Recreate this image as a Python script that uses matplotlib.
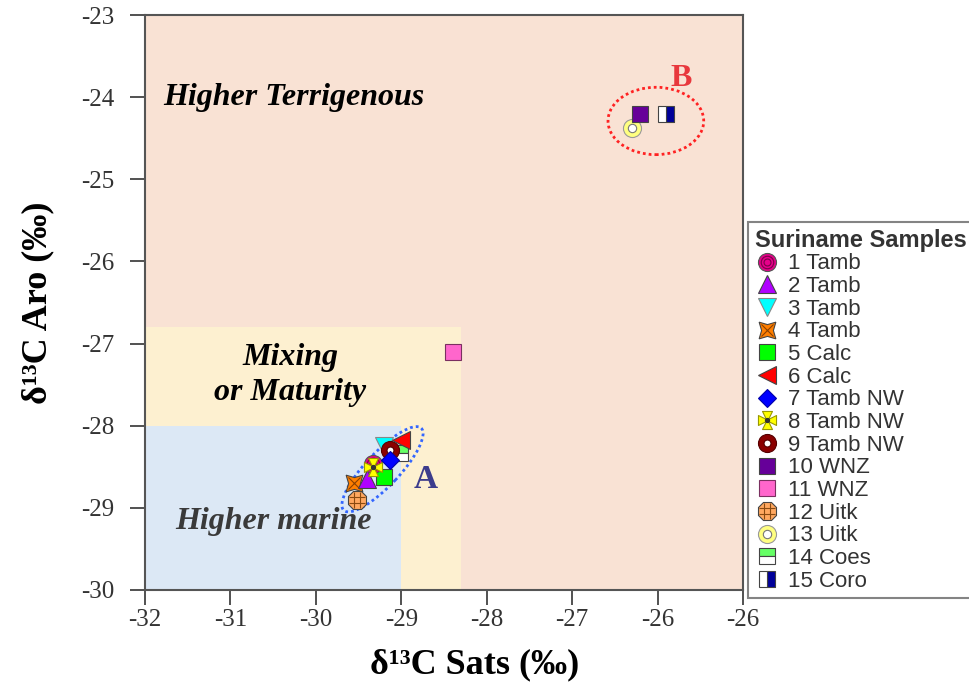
import matplotlib
matplotlib.use("Agg")
import matplotlib.pyplot as plt
from matplotlib.lines import Line2D
from matplotlib.patches import Rectangle, Ellipse
from matplotlib.path import Path
from matplotlib.legend_handler import HandlerTuple

plt.rcParams["axes.unicode_minus"] = False

# sample values (d13C sats, d13C aro)
labels = ["1 Tamb", "2 Tamb", "3 Tamb", "4 Tamb", "5 Calc", "6 Calc",
          "7 Tamb NW", "8 Tamb NW", "9 Tamb NW", "10 WNZ", "11 WNZ",
          "12 Uitk", "13 Uitk", "14 Coes", "15 Coro"]
sats = [-29.33, -29.40, -29.20, -29.55, -29.20, -29.00,
        -29.13, -29.33, -29.13, -26.20, -28.40,
        -29.52, -26.30, -29.02, -25.90]
aro = [-28.46, -28.65, -28.25, -28.70, -28.62, -28.17,
       -28.42, -28.50, -28.30, -24.20, -27.10,
       -28.91, -24.38, -28.33, -24.20]

xticks = [-32, -31, -30, -29, -28, -27, -26, -25]
xtick_labels = ["-32", "-31", "-30", "-29", "-28", "-27", "-26", "-26"]
yticks = [-30, -29, -28, -27, -26, -25, -24, -23]

# custom marker shapes
maltese = [(-0.55, 1), (0.55, 1), (0.12, 0.12), (1, 0.55), (1, -0.55),
           (0.12, -0.12), (0.55, -1), (-0.55, -1), (-0.12, -0.12),
           (-1, -0.55), (-1, 0.55), (-0.12, 0.12), (-0.55, 1)]
grid = Path([(-0.33, -1), (-0.33, 1), (0.33, -1), (0.33, 1),
             (-1, -0.33), (1, -0.33), (-1, 0.33), (1, 0.33)],
            [Path.MOVETO, Path.LINETO] * 4)
xstar = (4, 1, 45)

ec = "#444444"
# marker layers for each sample: (marker, size, face, edge, extra kwargs)
styles = [
    [("o", 13, "#E6008A", "#555555", {}), ("o", 9, "none", "#7a0048", {}), ("o", 5, "none", "#7a0048", {})],
    [("^", 13, "#B000FF", ec, {})],
    [("v", 13, "#00FFFF", "#888888", {})],
    [(xstar, 17, "#FF7F00", ec, {}), ("x", 9, "none", "#8a4000", {})],
    [("s", 12, "#00FF00", ec, {})],
    [("<", 13, "#FF0000", ec, {})],
    [("D", 9, "#0000FF", "#0000aa", {})],
    [(maltese, 13, "#FFFF00", "#999900", {}), ("o", 3, "#333333", "#333333", {})],
    [("o", 13, "#8B0000", "#550000", {}), ("o", 5, "white", "#550000", {})],
    [("s", 12, "#660099", ec, {})],
    [("s", 12, "#FF66CC", "#7a3060", {})],
    [("8", 14, "#FFA860", ec, {}), (grid, 12, "none", "#8a4a10", {})],
    [("o", 13, "#FFFF80", "#999999", {}), ("o", 6, "white", "#777777", {})],
    [("s", 12, "#66FF66", ec, {"fillstyle": "top", "markerfacecoloralt": "white"})],
    [("s", 12, "#000099", ec, {"fillstyle": "right", "markerfacecoloralt": "white"})],
]

fig = plt.figure(figsize=(9.69, 6.89), dpi=100)
ax = fig.add_axes([145 / 969, 99 / 689, 598 / 969, 575 / 689])
ax.set_xlim(-32, -25)
ax.set_ylim(-30, -23)

# background regions
ax.add_patch(Rectangle((-32, -30), 7, 7, facecolor="#F9E2D4", edgecolor="none", zorder=0))
ax.add_patch(Rectangle((-32, -30), 3.7, 3.2, facecolor="#FDF0D0", edgecolor="none", zorder=0))
ax.add_patch(Rectangle((-32, -30), 3.0, 2.0, facecolor="#DCE8F5", edgecolor="none", zorder=0))

serif = "Liberation Serif"
ax.text(-31.79, -24.0, "Higher Terrigenous", family=serif, weight="bold", style="italic",
        fontsize=23, color="black", va="center", ha="left")
ax.text(-30.3, -27.38, "Mixing\nor Maturity", family=serif, weight="bold", style="italic",
        fontsize=23, color="black", va="center", ha="center", linespacing=1.28)
ax.text(-31.65, -29.17, "Higher marine", family=serif, weight="bold", style="italic",
        fontsize=23, color="#3a3a3a", va="center", ha="left")

ax.text(-28.72, -28.66, "A", family=serif, weight="bold", fontsize=24, color="#3c3c8c",
        ha="center", va="center")
ax.text(-25.72, -23.77, "B", family=serif, weight="bold", fontsize=23, color="#E8383D",
        ha="center", va="center")

ax.add_patch(Ellipse((-29.22, -28.53), 1.35, 0.40, angle=48, fill=False,
                     edgecolor="#3366FF", linestyle=(0, (1, 1.1)), linewidth=2, zorder=5))
ax.add_patch(Ellipse((-26.02, -24.29), 1.12, 0.82, fill=False,
                     edgecolor="#FF2222", linestyle=(0, (1, 1.1)), linewidth=2, zorder=5))

handles = []
order = [11, 3, 1, 4, 2, 12, 9, 10, 14, 13, 8, 5, 0, 7, 6]
for i in order:
    for m, s, fc, e, kw in styles[i]:
        ax.plot(sats[i], aro[i], linestyle="none", marker=m, markersize=s,
                markerfacecolor=fc, markeredgecolor=e, markeredgewidth=0.8, zorder=6, **kw)
for i in range(len(labels)):
    hs = []
    for m, s, fc, e, kw in styles[i]:
        hs.append(Line2D([], [], linestyle="none", marker=m, markersize=s,
                         markerfacecolor=fc, markeredgecolor=e, markeredgewidth=0.8, **kw))
    handles.append(tuple(hs))

ax.set_xticks(xticks)
ax.set_xticklabels(xtick_labels)
ax.set_yticks(yticks)
ax.tick_params(direction="out", length=11, width=1.2, color="#333333",
               labelsize=18, labelcolor="#333333")
ax.tick_params(axis="x", pad=3)
ax.tick_params(axis="y", pad=11)
for lab in ax.get_xticklabels() + ax.get_yticklabels():
    lab.set_family(serif)
for sp in ax.spines.values():
    sp.set_color("#555555")
    sp.set_linewidth(1.5)

ax.set_xlabel("δ¹³C Sats (‰)", family=serif, weight="bold", fontsize=26)
ax.xaxis.set_label_coords(0.552, -0.102)
ax.set_ylabel("δ¹³C Aro (‰)", family=serif, weight="bold", fontsize=26)
ax.yaxis.set_label_coords(-0.152, 0.5)

leg = fig.legend(handles, labels, loc="upper left", bbox_to_anchor=(748 / 969, 1 - 222 / 689),
                 handler_map={tuple: HandlerTuple(ndivide=1)},
                 title="Suriname Samples", prop={"family": "Liberation Sans", "size": 16},
                 title_fontproperties={"family": "Liberation Sans", "weight": "bold", "size": 17},
                 frameon=True, fancybox=False, edgecolor="#666666", borderpad=0.3,
                 labelspacing=0.075, handlelength=1.1, handletextpad=0.4, borderaxespad=0)
leg.get_frame().set_linewidth(1.5)
leg._legend_box.align = "left"
for t in leg.get_texts():
    t.set_color("#333333")
leg.get_title().set_color("#333333")

fig.savefig("out.png", dpi=100)
